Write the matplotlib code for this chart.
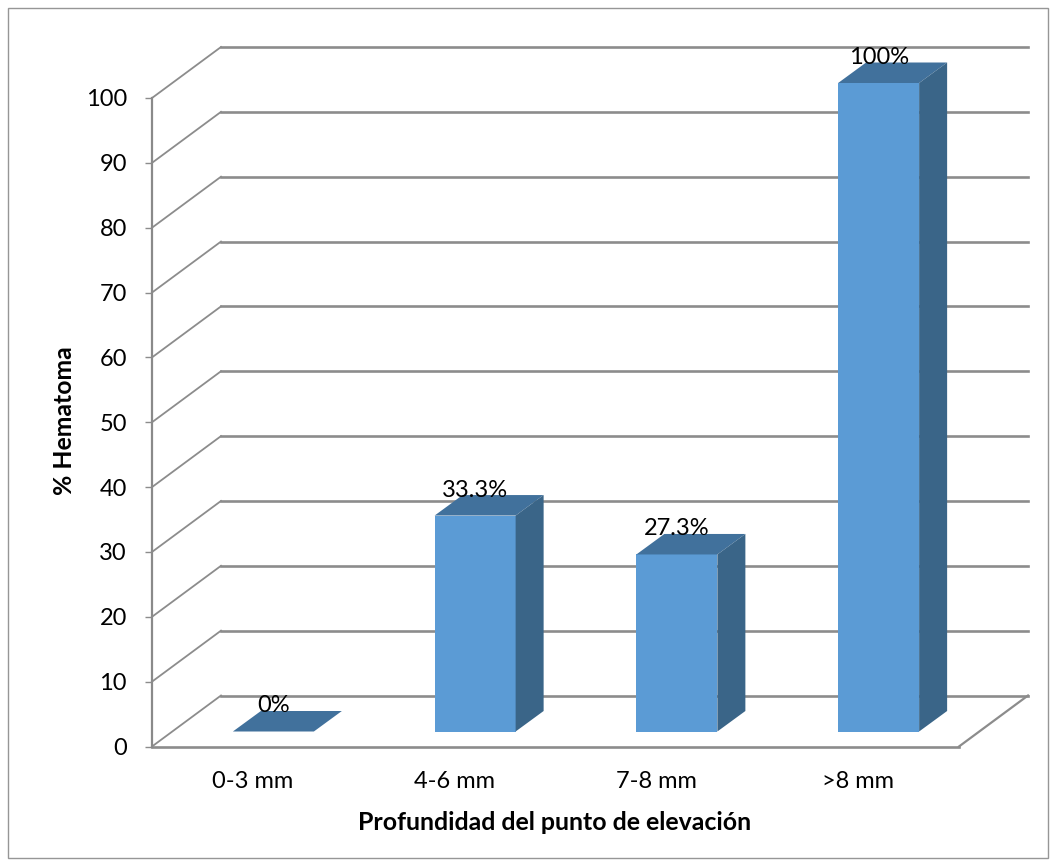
import matplotlib
matplotlib.use('Agg')
import matplotlib.pyplot as plt
from matplotlib.patches import Polygon, Rectangle
import numpy as np

plt.rcParams['font.family'] = ['Lato', 'DejaVu Sans']

categories = ['0-3 mm', '4-6 mm', '7-8 mm', '>8 mm']
values = [0, 33.3, 27.3, 100]
value_labels = ['0%', '33.3%', '27.3%', '100%']
y_ticks = [0, 10, 20, 30, 40, 50, 60, 70, 80, 90, 100]

W, H = 1057, 867
fig = plt.figure(figsize=(W / 100, H / 100), dpi=100, facecolor='white')

# chart frame
fig.add_artist(Rectangle((8 / W, 1 - 858 / H), 1040 / W, 850 / H, transform=fig.transFigure,
                         fc='none', ec='#969696', lw=1))

left, right, bottom, top = 152, 959, 746.5, 98
ax = fig.add_axes([left / W, 1 - bottom / H, (right - left) / W, (bottom - top) / H])
ax.set_xlim(0, 4)
ax.set_ylim(0, 100)
ax.patch.set_visible(False)
for s in ['top', 'right', 'bottom']:
    ax.spines[s].set_visible(False)
ax.spines['left'].set_color('#8a8a8a')
ax.spines['left'].set_linewidth(1.6)

ux = 4 / (right - left)    # data units per pixel, x
uy = 100 / (bottom - top)  # data units per pixel, y
wall_x, wall_y = 69 * ux, 51 * uy
grid_c = '#8c8c8c'

# floor and back wall
for v in y_ticks:
    ax.plot([0, wall_x], [v, v + wall_y], color=grid_c, lw=1.3, clip_on=False, zorder=1)
    ax.plot([wall_x, 4 + wall_x], [v + wall_y, v + wall_y], color=grid_c, lw=1.9,
            clip_on=False, zorder=1)
ax.plot([0, 4], [0, 0], color=grid_c, lw=1.9, clip_on=False, zorder=1)
ax.plot([4, 4 + wall_x], [0, wall_y], color=grid_c, lw=1.6, clip_on=False, zorder=1)

# 3d columns: front face plus top and side faces
x_pos = np.arange(4) + 0.5
bar_x = x_pos + 20.5 * ux
bar_w = 81 * ux
base = 15 * uy
dx, dy = 28 * ux, 20.5 * uy
ax.bar(bar_x, values, bottom=base, width=bar_w, color='#5b9bd5', zorder=3, clip_on=False)
for x, v, lab in zip(bar_x, values, value_labels):
    x0, x1 = x - bar_w / 2, x + bar_w / 2
    yb, yt = base, base + v
    ax.add_patch(Polygon([(x0, yt), (x1, yt), (x1 + dx, yt + dy), (x0 + dx, yt + dy)],
                         fc='#41719c', ec='none', clip_on=False, zorder=3))
    ax.add_patch(Polygon([(x1, yb), (x1 + dx, yb + dy), (x1 + dx, yt + dy), (x1, yt)],
                         fc='#3a6588', ec='none', clip_on=False, zorder=3))
    ax.text(x, yt + 25.5 * uy, lab, ha='center', va='center', fontsize=17,
            color='black', zorder=4, clip_on=False)

ax.set_yticks(y_ticks)
ax.tick_params(axis='y', direction='out', length=5, width=1, color='#8c8c8c',
               labelsize=17, pad=13)
ax.set_xticks(x_pos)
ax.set_xticklabels(categories)
ax.tick_params(axis='x', length=0, labelsize=17, pad=18)

fig.text(64 / W, 1 - 421 / H, '% Hematoma', rotation=90, ha='center', va='center',
         fontsize=17.8, fontweight='bold')
fig.text(555 / W, 1 - 822 / H, 'Profundidad del punto de elevación', ha='center', va='center',
         fontsize=17.9, fontweight='bold')

fig.savefig('out.png', dpi=100)
